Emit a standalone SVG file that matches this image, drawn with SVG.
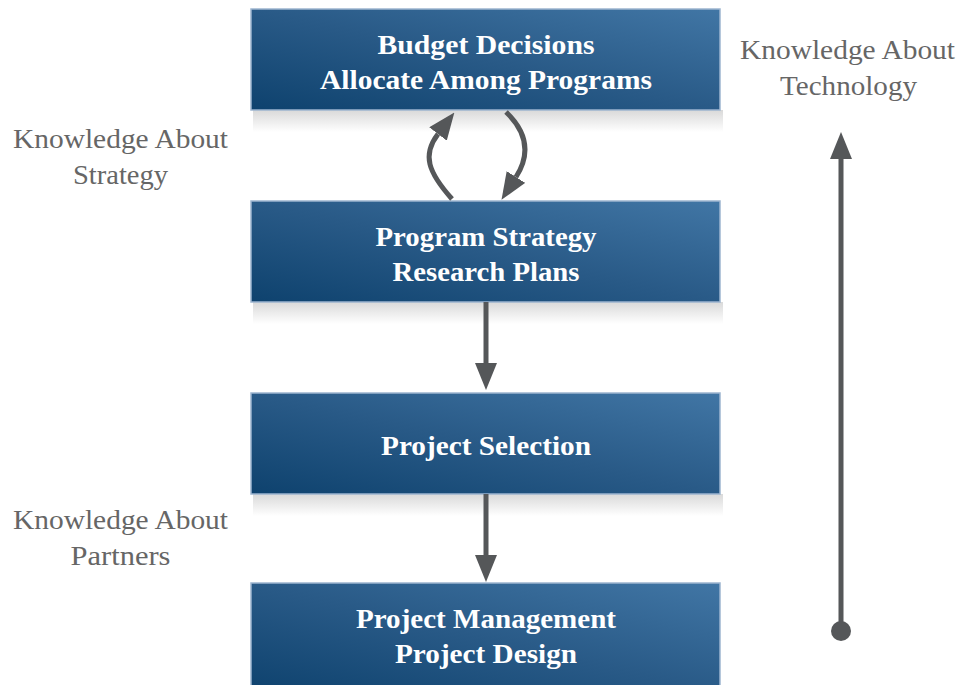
<svg xmlns="http://www.w3.org/2000/svg" width="963" height="685" viewBox="0 0 963 685">
<defs>
<linearGradient id="bg" x1="0" y1="1" x2="1" y2="0">
<stop offset="0" stop-color="#0e426e"/>
<stop offset="0.5" stop-color="#295a87"/>
<stop offset="1" stop-color="#4176a5"/>
</linearGradient>
<linearGradient id="sh" x1="0" y1="0" x2="0" y2="1">
<stop offset="0" stop-color="#d9d9d9"/>
<stop offset="1" stop-color="#ffffff"/>
</linearGradient>
<marker id="ah" viewBox="0 0 27 22" refX="0" refY="11" markerWidth="27" markerHeight="22" orient="auto" markerUnits="userSpaceOnUse">
<path d="M0,0 L27,11 L0,22 Z" fill="#555759"/>
</marker>
<style>
.box{fill:url(#bg);stroke:#9db5d0;stroke-width:1.5}
.shadow{fill:url(#sh)}
.bt{font-family:"Liberation Serif",serif;font-weight:bold;font-size:28px;fill:#ffffff;text-anchor:middle}
.st{font-family:"Liberation Serif",serif;font-size:28px;fill:#666666;text-anchor:middle}
.ln{fill:none;stroke:#555759;stroke-width:5}
</style>
</defs>
<rect width="963" height="685" fill="#ffffff"/>
<g id="node-budget">
<rect class="shadow" x="253" y="110" width="470" height="22"/>
<rect class="box" x="251" y="9" width="469" height="101"/>
<text class="bt" x="486" y="54" textLength="217" lengthAdjust="spacingAndGlyphs">Budget Decisions</text>
<text class="bt" x="486" y="89" textLength="332" lengthAdjust="spacingAndGlyphs">Allocate Among Programs</text>
</g>
<g id="node-strategy">
<rect class="shadow" x="253" y="302" width="470" height="22"/>
<rect class="box" x="251" y="201" width="469" height="101"/>
<text class="bt" x="486" y="246" textLength="221" lengthAdjust="spacingAndGlyphs">Program Strategy</text>
<text class="bt" x="486" y="281" textLength="187" lengthAdjust="spacingAndGlyphs">Research Plans</text>
</g>
<g id="node-selection">
<rect class="shadow" x="253" y="494" width="470" height="22"/>
<rect class="box" x="251" y="393" width="469" height="101"/>
<text class="bt" x="486" y="455" textLength="210" lengthAdjust="spacingAndGlyphs">Project Selection</text>
</g>
<g id="node-management">
<rect class="box" x="251" y="583" width="469" height="110"/>
<text class="bt" x="486" y="628" textLength="260" lengthAdjust="spacingAndGlyphs">Project Management</text>
<text class="bt" x="486" y="663" textLength="182" lengthAdjust="spacingAndGlyphs">Project Design</text>
</g>
<g id="labels">
<text class="st" x="120.5" y="148" textLength="215" lengthAdjust="spacingAndGlyphs">Knowledge About</text>
<text class="st" x="120.5" y="184" textLength="95" lengthAdjust="spacingAndGlyphs">Strategy</text>
<text class="st" x="120.5" y="529" textLength="215" lengthAdjust="spacingAndGlyphs">Knowledge About</text>
<text class="st" x="120.5" y="565" textLength="100" lengthAdjust="spacingAndGlyphs">Partners</text>
<text class="st" x="847.5" y="59" textLength="215" lengthAdjust="spacingAndGlyphs">Knowledge About</text>
<text class="st" x="848.5" y="95" textLength="137" lengthAdjust="spacingAndGlyphs">Technology</text>
</g>
<g id="connectors">
<path class="ln" d="M452,199 C428,172 422,155 438,134" marker-end="url(#ah)"/>
<path class="ln" d="M506,112 C528,133 530,155 516,177" marker-end="url(#ah)"/>
<line class="ln" x1="486" y1="302" x2="486" y2="363" marker-end="url(#ah)"/>
<line class="ln" x1="486" y1="494" x2="486" y2="555" marker-end="url(#ah)"/>
<line class="ln" x1="841" y1="631" x2="841" y2="159" marker-end="url(#ah)"/>
<circle cx="841" cy="631" r="10" fill="#555759"/>
</g>
</svg>
